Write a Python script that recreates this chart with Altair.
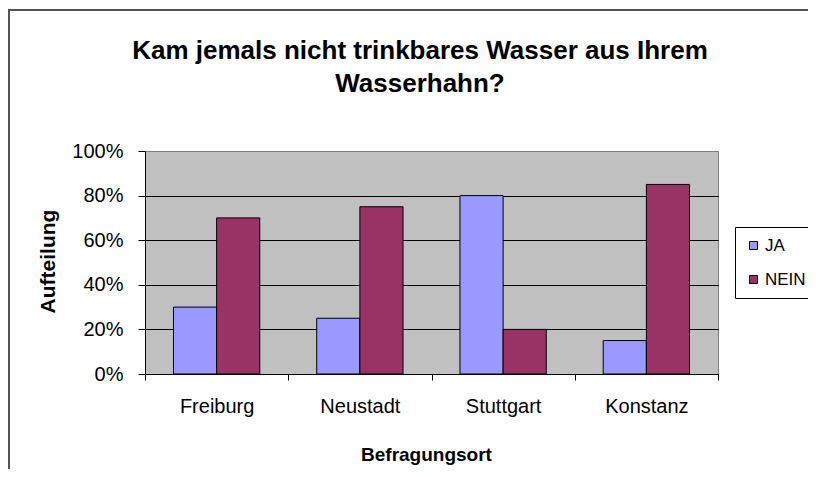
import altair as alt
import pandas as pd

orte = ["Freiburg", "Neustadt", "Stuttgart", "Konstanz"]
ja = [0.30, 0.25, 0.80, 0.15]
nein = [0.70, 0.75, 0.20, 0.85]
serien = ["JA", "NEIN"]
farben = ["#9999FF", "#993366"]
y_ticks = [0, 0.2, 0.4, 0.6, 0.8, 1.0]
titel = ["Kam jemals nicht trinkbares Wasser aus Ihrem", "Wasserhahn?"]

rows = []
for o, a, b in zip(orte, ja, nein):
    rows.append({"Ort": o, "Antwort": "JA", "Wert": a})
    rows.append({"Ort": o, "Antwort": "NEIN", "Wert": b})
df = pd.DataFrame(rows)

FONT = "Liberation Sans"

bars = alt.Chart(df).mark_bar(stroke="black", strokeWidth=1).encode(
    x=alt.X("Ort:N", sort=orte,
            scale=alt.Scale(paddingInner=0, paddingOuter=0),
            axis=alt.Axis(title="Befragungsort", labelAngle=0, tickBand="extent",
                          domainColor="black", tickColor="black", tickSize=6,
                          labelFont=FONT, labelFontSize=20, labelColor="black",
                          labelBaseline="alphabetic", labelPadding=32,
                          titleFont=FONT, titleFontSize=19,
                          titleFontWeight="bold", titleColor="black",
                          titleX=281, titleY=86, titleBaseline="alphabetic")),
    xOffset=alt.XOffset("Antwort:N", sort=serien,
                        scale=alt.Scale(paddingInner=0, paddingOuter=0.66)),
    y=alt.Y("Wert:Q", scale=alt.Scale(domain=[0, 1], nice=False),
            axis=alt.Axis(title="Aufteilung", values=y_ticks, format=".0%",
                          domainColor="black", tickColor="black", tickSize=7,
                          gridColor={"condition": {"test": "datum.value >= 1", "value": "#808080"}, "value": "black"},
                          gridOpacity=1, gridWidth=1,
                          labelFont=FONT, labelFontSize=20, labelColor="black",
                          labelPadding=15, titleFont=FONT, titleFontSize=21,
                          titleFontWeight="bold", titleColor="black",
                          titleX=-97, titleY=110, titleBaseline="middle")),
    color=alt.Color("Antwort:N", sort=serien,
                    scale=alt.Scale(domain=serien, range=farben),
                    legend=alt.Legend(title=None, orient="none", legendX=590, legendY=76,
                                      symbolType="square", symbolSize=64,
                                      symbolStrokeColor="black", symbolStrokeWidth=1,
                                      labelFont=FONT, labelFontSize=17, labelColor="black",
                                      strokeColor="black", padding=10, rowPadding=16,
                                      labelOffset=3)),
)

frame = alt.Chart(pd.DataFrame({"a": [0]})).mark_rect(
    fill="transparent", stroke="#555555", strokeWidth=2, clip=False
).encode(x=alt.value(-136), x2=alt.value(900), y=alt.value(-141), y2=alt.value(600))

title = alt.Chart(pd.DataFrame({"a": [0]})).mark_text(
    text="\n".join(titel), lineBreak="\n", lineHeight=33,
    font=FONT, fontSize=26, fontWeight="bold", color="black",
    align="center", baseline="top"
).encode(x=alt.value(275), y=alt.value(-113))

chart = alt.layer(frame, bars, title).properties(
    width=573, height=223,
    padding={"left": 137, "top": 143, "right": 90, "bottom": 95},
    autosize=alt.AutoSizeParams(type="none"),
).configure(
    background="white",
    view=alt.ViewConfig(fill="#C0C0C0", stroke="#808080", strokeWidth=1),
)

chart.save("out.html", embed_options={"renderer": "svg", "actions": False})
